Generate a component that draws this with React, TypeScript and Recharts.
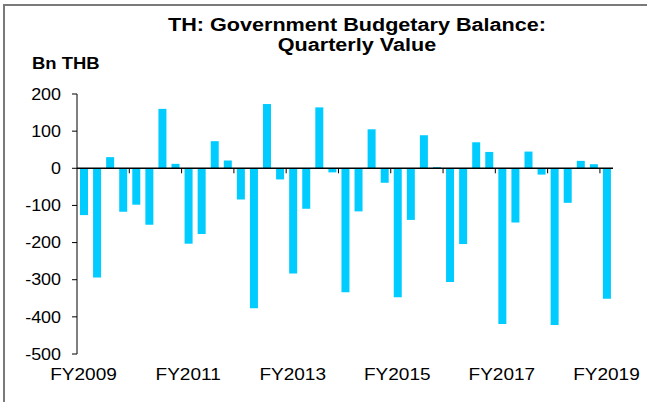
import React from 'react';
import { Bar, BarChart, ReferenceLine, XAxis, YAxis } from 'recharts';

// fiscal quarters, FY2009 Q1 .. FY2019 Q1
const quarters = [
  '2009Q1', '2009Q2', '2009Q3', '2009Q4',
  '2010Q1', '2010Q2', '2010Q3', '2010Q4',
  '2011Q1', '2011Q2', '2011Q3', '2011Q4',
  '2012Q1', '2012Q2', '2012Q3', '2012Q4',
  '2013Q1', '2013Q2', '2013Q3', '2013Q4',
  '2014Q1', '2014Q2', '2014Q3', '2014Q4',
  '2015Q1', '2015Q2', '2015Q3', '2015Q4',
  '2016Q1', '2016Q2', '2016Q3', '2016Q4',
  '2017Q1', '2017Q2', '2017Q3', '2017Q4',
  '2018Q1', '2018Q2', '2018Q3', '2018Q4',
  '2019Q1',
];

// Bn THB
const balance = [
  -126, -294, 30, -117,
  -98, -152, 160, 12,
  -203, -177, 73, 21,
  -84, -377, 173, -30,
  -283, -109, 164, -11,
  -334, -116, 105, -39,
  -347, -139, 89, 3,
  -306, -204, 70, 44,
  -419, -146, 45, -17,
  -422, -93, 20, 11,
  -351,
];

const labelAt = ['2009Q1', '2011Q1', '2013Q1', '2015Q1', '2017Q1', '2019Q1'];
const labelText = ['FY2009', 'FY2011', 'FY2013', 'FY2015', 'FY2017', 'FY2019'];

const yTicks = [-500, -400, -300, -200, -100, 0, 100, 200];

const data = quarters.map((q, i) => ({ q, v: balance[i] }));

const W = 647;
const H = 402;
const M = { top: 94, right: 34, bottom: 18, left: 17 };
const Y_W = 60;
const X_H = 30;
const plotW = W - M.left - Y_W - M.right;
const plotH = H - M.top - M.bottom - X_H;
const band = plotW / quarters.length;
const zeroY = M.top + (plotH * 200) / 700;

const FONT = '"Liberation Sans", Arial, sans-serif';

// the source text is a bit wider than plain Arial
function WideText({ x, y, anchor, size, dy, children }: any) {
  return (
    <text
      transform={`translate(${x},${y}) scale(1.12,1)`}
      dy={dy}
      textAnchor={anchor}
      fontSize={size}
      fill="#000"
      fontFamily={FONT}
    >
      {children}
    </text>
  );
}

function QuarterTick(props: any) {
  const { x, y, index, payload } = props;
  const li = labelAt.indexOf(payload.value);
  return (
    <g>
      {index % 4 === 0 && index > 0 && (
        <line x1={x - band / 2} x2={x - band / 2} y1={zeroY} y2={zeroY + 5} stroke="#000" />
      )}
      {li >= 0 && (
        <WideText x={x} y={y} anchor="middle" size={17} dy="0.71em">
          {labelText[li]}
        </WideText>
      )}
    </g>
  );
}

function ValueTick(props: any) {
  const { x, y, payload } = props;
  return (
    <WideText x={x} y={y} anchor="end" size={16} dy="0.355em">
      {payload.value}
    </WideText>
  );
}

export default function App() {
  return (
    <div
      style={{
        position: 'fixed',
        left: 0,
        top: 0,
        width: W,
        height: H,
        background: '#fff',
        fontFamily: FONT,
      }}
    >
      <div
        style={{
          position: 'absolute',
          left: 3,
          top: 4,
          right: 0,
          bottom: 0,
          borderTop: '2px solid #7a7a7a',
          borderLeft: '2px solid #7a7a7a',
        }}
      />
      <div
        style={{
          position: 'absolute',
          left: 157,
          width: 400,
          top: 15,
          textAlign: 'center',
          fontWeight: 'bold',
          fontSize: 18,
          lineHeight: '20px',
          color: '#000',
          transform: 'scaleX(1.2)',
          transformOrigin: 'center',
        }}
      >
        TH: Government Budgetary Balance:
        <br />
        Quarterly Value
      </div>
      <div
        style={{
          position: 'absolute',
          left: 32,
          top: 55,
          fontWeight: 'bold',
          fontSize: 16,
          color: '#000',
          transform: 'scaleX(1.15)',
          transformOrigin: 'left',
        }}
      >
        Bn THB
      </div>
      <div style={{ position: 'absolute', left: 0, top: 0 }}>
        <BarChart width={W} height={H} data={data} margin={M} barSize={8}>
          <XAxis
            dataKey="q"
            height={X_H}
            interval={0}
            axisLine={false}
            tickLine={false}
            tickMargin={8}
            tick={<QuarterTick />}
          />
          <YAxis
            width={Y_W}
            domain={[-500, 200]}
            ticks={yTicks}
            interval={0}
            tickSize={5}
            tickMargin={11}
            axisLine={{ stroke: '#000' }}
            tickLine={{ stroke: '#000' }}
            tick={<ValueTick />}
          />
          <Bar dataKey="v" fill="#00CCFF" isAnimationActive={false} />
          <ReferenceLine y={0} stroke="#000" strokeWidth={1.5} />
        </BarChart>
      </div>
    </div>
  );
}
